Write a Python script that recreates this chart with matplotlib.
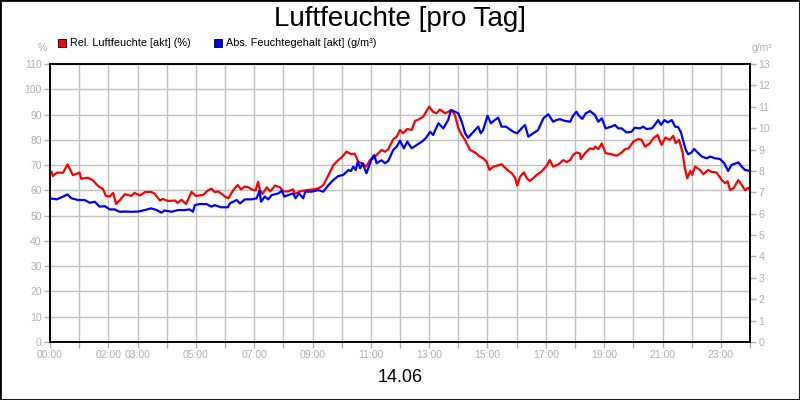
import matplotlib
matplotlib.use('Agg')
import matplotlib.pyplot as plt
from matplotlib.patches import Rectangle

# minutes after midnight, relative humidity (%)
rel_t = [0, 3, 6, 14, 27, 36, 47, 61, 64, 78, 88, 99, 109, 115, 123, 130, 136, 143, 154, 167,
         174, 185, 195, 208, 215, 226, 232, 243, 257, 263, 270, 280, 291, 300, 315, 325, 332, 339,
         346, 356, 360, 367, 377, 386, 393, 400, 408, 415, 423, 428, 432, 437, 446, 453, 463, 473,
         480, 490, 500, 504, 514, 528, 542, 552, 562, 573, 583, 593, 600, 610, 619, 627, 634, 641,
         651, 658, 665, 672, 682, 689, 696, 706, 713, 720, 726, 735, 744, 751, 758, 768, 780, 788,
         795, 802, 813, 819, 826, 833, 840, 847, 854, 864, 874, 885, 891, 898, 904, 912, 922, 929,
         936, 943, 950, 957, 961, 967, 975, 981, 987, 994, 1001, 1011, 1022, 1028, 1035, 1046,
         1056, 1063, 1070, 1076, 1083, 1090, 1092, 1102, 1111, 1118, 1122, 1128, 1135, 1143, 1155,
         1166, 1176, 1183, 1190, 1200, 1210, 1217, 1224, 1234, 1241, 1250, 1258, 1266, 1275, 1282,
         1287, 1294, 1301, 1306, 1311, 1317, 1321, 1327, 1337, 1344, 1354, 1361, 1371, 1382, 1389,
         1394, 1399, 1406, 1416, 1423, 1430, 1436, 1440]
rel_v = [67.5, 67.4, 65.7, 67, 67, 70.3, 66, 67, 64.6, 65, 64, 61.7, 60.5, 57.8, 57.6, 59, 54.6,
         56, 58.5, 57.8, 59, 58, 59.3, 59.4, 58.7, 56, 56.6, 55.8, 56, 55, 56.3, 54.6, 59.4, 57.8,
         58.2, 60, 60.7, 59.3, 59.6, 58.2, 57.5, 56.9, 60.1, 62.1, 60.4, 61.5, 61.2, 60.4, 60, 63.4,
         60, 58.6, 61.2, 59.6, 61.9, 61.2, 59.6, 59.6, 60.4, 58.6, 59.6, 60.1, 60.4, 60.8, 62, 66.1,
         70, 72, 73.1, 75.3, 74.4, 74.5, 71.4, 70.7, 69.4, 72, 72.6, 74, 76, 75.3, 76.3, 80.2, 81.2,
         83.9, 82.6, 84.3, 83.9, 87.5, 88, 89.2, 93.1, 91.1, 90.5, 92, 90.5, 91.1, 91.8, 89.8, 84.6,
         81.9, 79.9, 76, 75, 73.3, 72.7, 71.4, 68.1, 69.4, 69.9, 70.3, 69, 67.7, 66.8, 64.8, 61.9,
         65.4, 67.1, 64.8, 63.7, 64.8, 66.1, 67.4, 69.8, 72, 69.4, 70.3, 72, 71.2, 72, 74, 75, 74.6,
         72.4, 75, 76.6, 76.3, 77.3, 76.3, 78.6, 74.7, 74.3, 73.7, 75, 76.3, 76.6, 79.3, 80.3, 80,
         77.3, 78.6, 80.6, 81.9, 78, 80.9, 80, 81.6, 78.7, 80, 75.3, 68.7, 64.8, 67.7, 66.1, 69.4,
         68.1, 66.4, 68.1, 67.3, 67.1, 64.1, 62.8, 63.6, 60.1, 60.8, 64.1, 62.1, 60.1, 61, 60.1]

# minutes after midnight, absolute humidity (g/m3)
abs_t = [0, 14, 27, 36, 44, 58, 71, 82, 92, 102, 113, 123, 133, 143, 154, 167, 181, 195, 208,
         219, 229, 236, 250, 263, 277, 287, 294, 298, 308, 322, 332, 339, 352, 366, 370, 384, 391,
         401, 415, 425, 431, 434, 442, 449, 456, 470, 477, 482, 490, 500, 505, 512, 521, 525, 538,
         552, 562, 573, 583, 593, 603, 614, 619, 624, 629, 633, 638, 643, 651, 662, 667, 672, 682,
         689, 696, 706, 713, 720, 728, 735, 744, 754, 765, 773, 782, 788, 799, 809, 819, 825, 833,
         840, 847, 854, 860, 871, 881, 886, 891, 900, 907, 915, 922, 929, 938, 943, 953, 961, 970,
         977, 984, 994, 1004, 1015, 1025, 1035, 1042, 1049, 1059, 1070, 1076, 1083, 1087, 1095,
         1102, 1111, 1121, 1128, 1135, 1143, 1155, 1162, 1169, 1176, 1186, 1196, 1203, 1214, 1220,
         1227, 1238, 1244, 1251, 1257, 1264, 1271, 1279, 1286, 1292, 1298, 1303, 1308, 1313, 1319,
         1325, 1334, 1341, 1351, 1358, 1368, 1378, 1387, 1395, 1402, 1416, 1423, 1430, 1440]
abs_v = [6.72, 6.67, 6.8, 6.9, 6.72, 6.64, 6.64, 6.51, 6.56, 6.33, 6.35, 6.2, 6.2, 6.09, 6.1, 6.09,
         6.1, 6.17, 6.25, 6.17, 6.05, 6.15, 6.09, 6.17, 6.17, 6.2, 6.09, 6.4, 6.45, 6.45, 6.33, 6.4,
         6.3, 6.3, 6.48, 6.64, 6.48, 6.67, 6.67, 6.72, 7.07, 6.56, 6.8, 6.67, 6.87, 6.95, 7.07, 6.8,
         6.87, 6.95, 6.72, 6.95, 6.72, 7.03, 7.03, 7.1, 7.03, 7.34, 7.58, 7.76, 7.81, 8.04, 8.0, 8.2,
         8.04, 8.43, 8.12, 8.36, 7.89, 8.59, 8.74, 8.36, 8.5, 8.36, 8.47, 8.98, 9.13, 9.41, 9.06,
         9.37, 9.06, 9.21, 9.37, 9.53, 9.83, 9.68, 10.23, 9.99, 10.38, 10.85, 10.77, 10.69, 10.3,
         9.76, 9.55, 9.83, 10.07, 9.76, 9.91, 10.58, 10.23, 10.38, 10.49, 10.07, 10.07, 9.99, 9.83,
         9.76, 9.99, 10.15, 9.6, 9.76, 9.91, 10.46, 10.65, 10.3, 10.38, 10.42, 10.34, 10.3, 10.58,
         10.77, 10.61, 10.43, 10.69, 10.8, 10.61, 10.3, 10.46, 9.99, 10.07, 10.15, 9.99, 9.99, 9.8,
         9.83, 10.02, 9.99, 10.07, 9.96, 9.99, 10.15, 10.38, 10.15, 10.38, 10.27, 10.38, 10.07,
         10.05, 9.8, 9.37, 8.98, 8.78, 8.85, 9.03, 8.82, 8.67, 8.59, 8.67, 8.59, 8.56, 8.36, 8.0,
         8.28, 8.4, 8.2, 8.04, 8.0]

hour_labels = {0: '00:00', 2: '02:00', 3: '03:00', 5: '05:00', 7: '07:00', 9: '09:00',
               11: '11:00', 13: '13:00', 15: '15:00', 17: '17:00', 19: '19:00', 21: '21:00',
               23: '23:00'}

plt.rcParams['font.family'] = ['Liberation Sans', 'DejaVu Sans']
gray = '#b0b0b0'

fig = plt.figure(figsize=(8, 4), dpi=100)
fig.patches.append(Rectangle((0, 0), 1, 1, transform=fig.transFigure, fill=False,
                             edgecolor='black', linewidth=2))
ax = fig.add_axes([0.0625, 0.145, 0.875, 0.695])
ax2 = ax.twinx()

ax.plot([t / 60 for t in rel_t], rel_v, color='#ff0000', linewidth=1.6, zorder=3)
ax2.plot([t / 60 for t in abs_t], abs_v, color='#0000ff', linewidth=1.6, zorder=3)

ax.set_xlim(0, 24)
ax.set_ylim(0, 110)
ax2.set_ylim(0, 13)
ax.set_xticks(range(25))
ax.set_xticklabels([hour_labels.get(h, '') for h in range(25)])
ax.set_yticks(range(0, 111, 10))
ax2.set_yticks(range(14))
ax.grid(True, color='#c0c0c0', linewidth=1)
ax.set_axisbelow(True)

for a in (ax, ax2):
    a.tick_params(colors=gray, labelsize=7.5, length=4, width=1, pad=2)
    for s in a.spines.values():
        s.set_color('black')
        s.set_linewidth(1.2)

fig.text(0.5, 0.952, 'Luftfeuchte [pro Tag]', ha='center', va='center', fontsize=20)
fig.text(0.5, 0.055, '14.06', ha='center', va='center', fontsize=13)
fig.text(0.053, 0.88, '%', ha='center', va='center', fontsize=7.5, color=gray)
fig.text(0.953, 0.88, 'g/m³', ha='center', va='center', fontsize=7.5, color=gray)

fig.patches.append(Rectangle((0.0725, 0.882), 0.01, 0.02, transform=fig.transFigure,
                             facecolor='#ff0000', edgecolor='black', linewidth=0.6))
fig.text(0.087, 0.892, 'Rel. Luftfeuchte [akt] (%)', ha='left', va='center', fontsize=7.8)
fig.patches.append(Rectangle((0.2675, 0.882), 0.01, 0.02, transform=fig.transFigure,
                             facecolor='#0000ff', edgecolor='black', linewidth=0.6))
fig.text(0.282, 0.892, 'Abs. Feuchtegehalt [akt] (g/m³)', ha='left', va='center', fontsize=7.8)

fig.savefig('out.png', dpi=100)
